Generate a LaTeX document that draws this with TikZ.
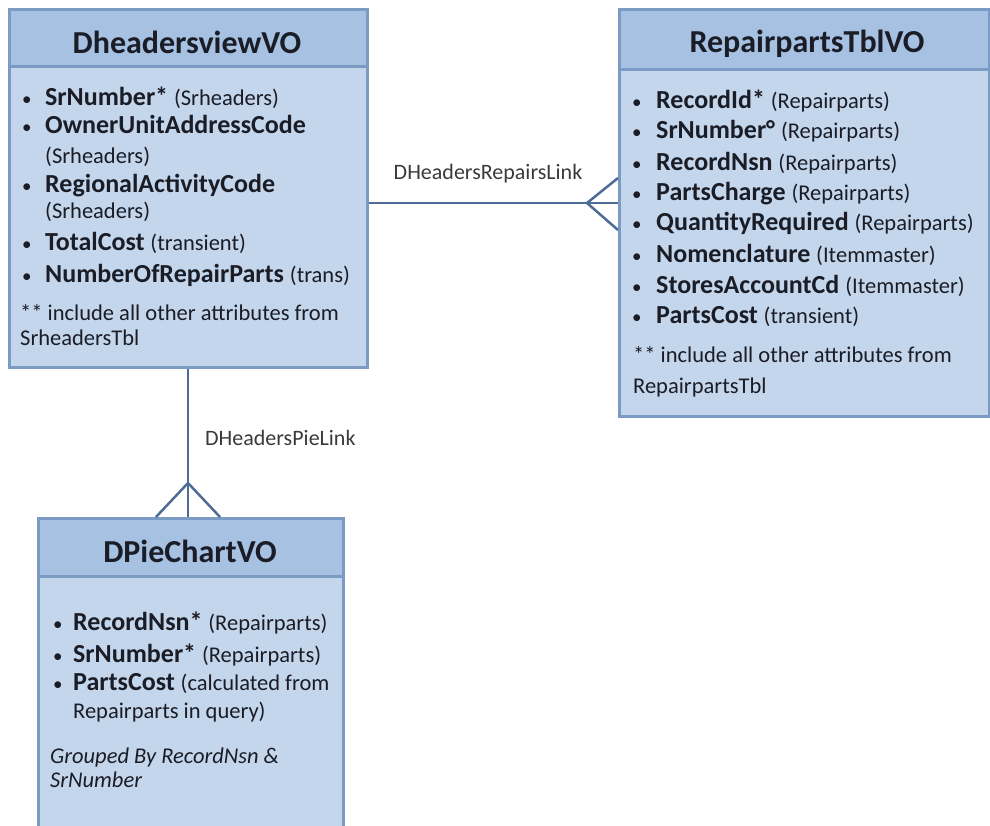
\documentclass[tikz,border=0pt]{standalone}
\usepackage{fontspec}
\setmainfont{Carlito}
\usetikzlibrary{shadows}
\definecolor{bodyc}{HTML}{C4D6EC}
\definecolor{hdrc}{HTML}{A6C1E2}
\definecolor{edgec}{HTML}{7C9BC4}
\definecolor{linkc}{HTML}{4E6C95}
\definecolor{txtc}{HTML}{1A1C26}
\definecolor{lblc}{HTML}{3A3A3A}
\newcommand\pp[1]{{\fontsize{22.5}{26}\selectfont\mdseries #1}}
\tikzset{
  boxbody/.style={draw=edgec, line width=2.5pt, fill=bodyc, anchor=north west, inner sep=0pt,
    drop shadow={shadow xshift=1.5pt, shadow yshift=-1.5pt, opacity=0.35}},
  boxhdr/.style={draw=edgec, line width=2.5pt, fill=hdrc, anchor=north west, inner sep=0pt},
  ttl/.style={anchor=base, inner sep=0pt, font=\fontsize{32}{36}\selectfont\bfseries, text=txtc},
  itm/.style={anchor=base west, inner sep=0pt, font=\fontsize{26}{29}\selectfont\bfseries, text=txtc},
  bul/.style={anchor=base west, inner sep=0pt, font=\fontsize{19}{24}\selectfont, text=txtc},
  note/.style={anchor=base west, inner sep=0pt, font=\fontsize{22.5}{26}\selectfont, text=txtc},
  lbl/.style={inner sep=0pt, font=\fontsize{22}{25}\selectfont, text=lblc},
  link/.style={draw=linkc, line width=2.5pt},
}
\begin{document}
\begin{tikzpicture}[x=1pt,y=-1pt]
\useasboundingbox (0,0) rectangle (990,825);
% ---------- Box 1 ----------
\node[boxbody, minimum width=358pt, minimum height=358pt] (b1) at (8,8) {};
\node[boxhdr, minimum width=358pt, minimum height=57pt] (h1) at (8,8) {};
\node[ttl] (t1) at (187,53) {DheadersviewVO};
\foreach \y/\bb/\t [count=\i] in {
  105/1/{SrNumber* \pp{(Srheaders)}},
  133/1/{OwnerUnitAddressCode},
  163/0/{\pp{(Srheaders)}},
  192/1/{RegionalActivityCode},
  218/0/{\pp{(Srheaders)}},
  250/1/{TotalCost \pp{(transient)}},
  282/1/{NumberOfRepairParts \pp{(trans)}}}{
  \ifnum\bb=1 \node[bul] (b1bul\i) at (22,\y) {•};\fi
  \node[itm] (b1itm\i) at (45,\y) {\t};
}
\node[note] (b1n1) at (20,320) {** include all other attributes from};
\node[note] (b1n2) at (20,345) {SrheadersTbl};
% ---------- Box 2 ----------
\node[boxbody, minimum width=370pt, minimum height=407pt] (b2) at (618,8) {};
\node[boxhdr, minimum width=370pt, minimum height=60pt] (h2) at (618,8) {};
\node[ttl] (t2) at (807,52) {RepairpartsTblVO};
\foreach \y/\t [count=\i] in {
  108/{RecordId* \pp{(Repairparts)}},
  138/{SrNumber° \pp{(Repairparts)}},
  170/{RecordNsn \pp{(Repairparts)}},
  200/{PartsCharge \pp{(Repairparts)}},
  230/{QuantityRequired \pp{(Repairparts)}},
  262/{Nomenclature \pp{(Itemmaster)}},
  293/{StoresAccountCd \pp{(Itemmaster)}},
  323/{PartsCost \pp{(transient)}}}{
  \node[bul] (b2bul\i) at (632,\y) {•};
  \node[itm] (b2itm\i) at (656,\y) {\t};
}
\node[note] (b2n1) at (633,362) {** include all other attributes from};
\node[note] (b2n2) at (633,393) {RepairpartsTbl};
% ---------- Box 3 ----------
\node[boxbody, minimum width=305pt, minimum height=320pt] (b3) at (37,517) {};
\node[boxhdr, minimum width=305pt, minimum height=58pt] (h3) at (37,517) {};
\node[ttl] (t3) at (190,562) {DPieChartVO};
\foreach \y/\bb/\t [count=\i] in {
  630/1/{RecordNsn* \pp{(Repairparts)}},
  662/1/{SrNumber* \pp{(Repairparts)}},
  690/1/{PartsCost \pp{(calculated from}},
  718/0/{\pp{Repairparts in query)}}}{
  \ifnum\bb=1 \node[bul] (b3bul\i) at (53,\y) {•};\fi
  \node[itm] (b3itm\i) at (73,\y) {\t};
}
\node[note, font=\fontsize{22.5}{26}\selectfont\itshape] (b3n1) at (50,763) {Grouped By RecordNsn \& };
\node[note, font=\fontsize{22.5}{26}\selectfont\itshape] (b3n2) at (50,787) {SrNumber};
% ---------- Links ----------
\coordinate (l1) at (0,203);
\coordinate (l1apex) at (587,203);
\draw[link] (b1.east |- l1) -- (b2.west |- l1);
\draw[link] (b2.west |- 0,178) -- (l1apex) -- (b2.west |- 0,230);
\node[lbl] (lab1) at (488,174) {DHeadersRepairsLink};
\coordinate (l2) at (188,0);
\coordinate (l2apex) at (188,483);
\draw[link] (b1.south -| l2) -- (b3.north -| l2);
\draw[link] (b3.north -| 156,0) -- (l2apex) -- (b3.north -| 220,0);
\node[lbl, anchor=base west] (lab2) at (205,445) {DHeadersPieLink};
\end{tikzpicture}
\end{document}
